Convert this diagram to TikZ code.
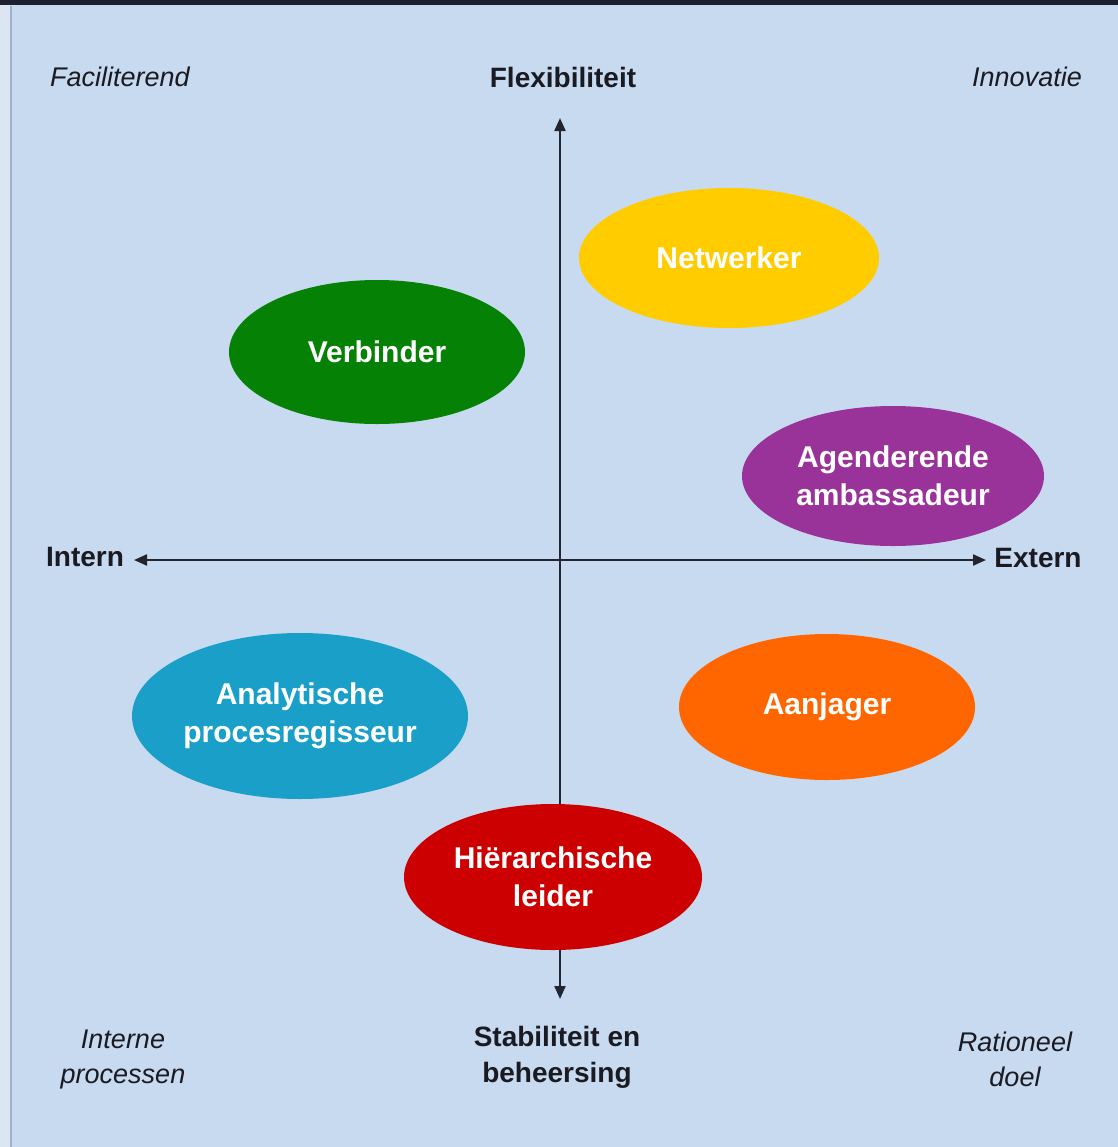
\documentclass[tikz,border=0pt]{standalone}
\usepackage{fontspec}
\setmainfont{Liberation Sans}
\usetikzlibrary{shapes.geometric,arrows.meta}
\definecolor{bgblue}{HTML}{C8DAF0}
\definecolor{edgeblue}{HTML}{DCE6F3}
\definecolor{edgeline}{HTML}{9FB3CC}
\definecolor{topbar}{HTML}{1C2030}
\definecolor{axiscol}{HTML}{202530}
\definecolor{cyellow}{HTML}{FFCC00}
\definecolor{cgreen}{HTML}{058205}
\definecolor{cpurple}{HTML}{993399}
\definecolor{ccyan}{HTML}{1AA0C8}
\definecolor{corange}{HTML}{FF6600}
\definecolor{cred}{HTML}{CC0000}
\definecolor{labtxt}{HTML}{1A1A22}
\tikzset{
  role/.style={ellipse, inner sep=0pt, text=white, align=center,
    font=\fontsize{15}{19}\selectfont\bfseries},
  axislab/.style={text=labtxt, align=center, font=\fontsize{14}{18}\selectfont\bfseries},
  quadlab/.style={text=labtxt, align=center, font=\fontsize{13.5}{17.5}\selectfont\itshape},
  axisline/.style={draw=axiscol, line width=1.1pt, {Triangle[length=6.5pt,width=5.5pt]}-{Triangle[length=6.5pt,width=5.5pt]}}
}
\begin{document}
\begin{tikzpicture}[x=0.5pt,y=-0.5pt]
\useasboundingbox (0,0) rectangle (1118,1147);
% background
\fill[bgblue] (0,0) rectangle (1118,1147);
\fill[edgeblue] (0,0) rectangle (10,1147);
\draw[edgeline, line width=0.8pt] (11,6) -- (11,1147);
\fill[topbar] (0,0) rectangle (1118,5);
% axes
\coordinate (vtop) at (560,118);
\coordinate (vbot) at (560,999);
\coordinate (hleft) at (134,560);
\coordinate (hright) at (986,560);
\draw[axisline] (vtop) -- (vbot);
\draw[axisline] (hleft) -- (hright);
% roles
\node[role, fill=cyellow, minimum width=150pt, minimum height=70pt] (netw) at (729,258) {Netwerker};
\node[role, fill=cgreen, minimum width=148pt, minimum height=72pt] (verb) at (377,352) {Verbinder};
\node[role, fill=cpurple, minimum width=151pt, minimum height=70pt] (agen) at (893,476) {Agenderende\\ambassadeur};
\node[role, fill=ccyan, minimum width=168pt, minimum height=83pt] (anal) at (300,716) {Analytische\\procesregisseur};
\node[role, fill=corange, minimum width=148pt, minimum height=73pt] (aanj) at (827,707) {Aanjager};
\node[role, fill=cred, minimum width=149pt, minimum height=73pt] (hier) at (553,877) {Hiërarchische\\leider};
% axis labels
\node[axislab] (flex) at (563,77) {Flexibiliteit};
\node[axislab] (intern) at (85,557) {Intern};
\node[axislab] (extern) at (1038,558) {Extern};
\node[axislab] (stab) at (557,1057) {Stabiliteit en\\beheersing};
% quadrant labels
\node[quadlab] (fac) at (120,77) {Faciliterend};
\node[quadlab] (inno) at (1027,77) {Innovatie};
\node[quadlab] (intp) at (123,1059) {Interne\\processen};
\node[quadlab] (rat) at (1015,1059) {Rationeel\\doel};
\end{tikzpicture}
\end{document}
